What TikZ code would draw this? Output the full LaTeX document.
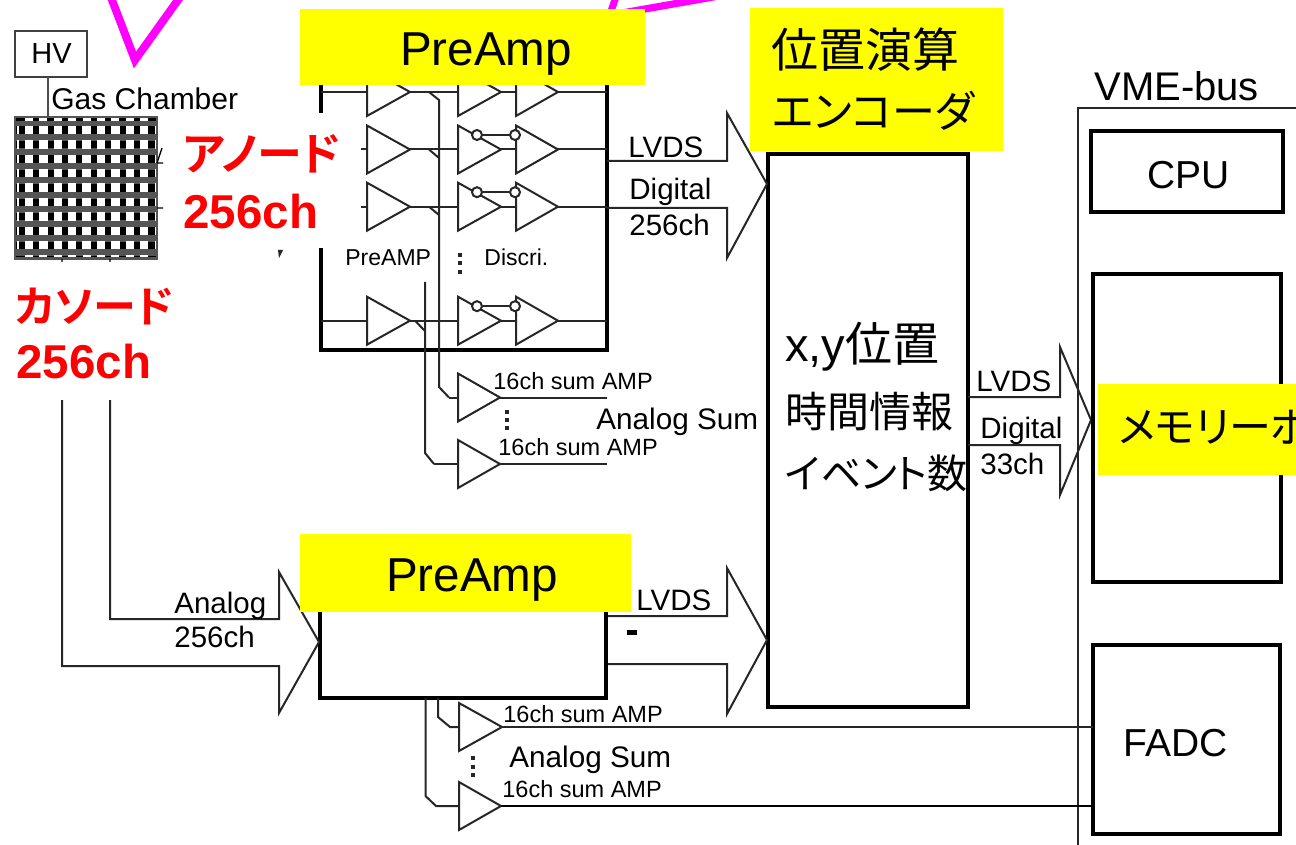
\documentclass[tikz,border=0pt]{standalone}
\usepackage{fontspec}
\setmainfont{Liberation Sans}
\newfontfamily\jp[RawFeature=+palt]{Noto Sans CJK JP}
\newfontfamily\jpb[RawFeature=+palt]{Noto Sans CJK JP Bold}
\newcommand{\fz}[1]{\fontsize{\dimexpr#1pt/2\relax}{\dimexpr#1pt*6/10\relax}\selectfont}
\definecolor{ylw}{RGB}{255,255,0}
\definecolor{mag}{RGB}{255,0,255}
\definecolor{band}{RGB}{85,85,85}
\tikzset{
  thin wire/.style={draw=black!85,line width=1pt,line join=miter},
  thick box/.style={draw=black,line width=2pt,fill=white,inner sep=0pt,outer sep=0pt},
  amp/.style={draw=black!85,line width=1pt,fill=white,line join=miter},
  lab/.style={inner sep=0pt,anchor=base west,text=black},
  yellowbox/.style={fill=ylw,draw=none,inner sep=0pt,outer sep=0pt},
  bubble/.style={circle,draw=black!85,line width=1pt,fill=white,minimum size=5pt,inner sep=0pt},
}
% #1 name, #2 left x, #3 apex x, #4 apex y
\newcommand{\ampl}[4]{%
  \coordinate (#1in) at (#2,#4);\coordinate (#1out) at (#3,#4);
  \draw[amp] (#2,#4-24) -- (#3,#4) -- (#2,#4+24) -- cycle;}
% one discriminator row
\newcommand{\drow}[2]{%
  \ampl{#1a}{367}{410}{#2}\ampl{#1b}{458}{501}{#2}\ampl{#1c}{516}{558}{#2}
  \draw[thin wire] (#1aout) -- (#1bin) (#1bout) -- (#1cin);
  \node[bubble] (#1p) at (477,#2-14.5) {};
  \node[bubble] (#1q) at (515,#2-14.5) {};
  \draw[thin wire] (#1p) -- (#1q);}
\begin{document}
\begin{tikzpicture}[x=0.5pt,y=-0.5pt]
\useasboundingbox (0,0) rectangle (1296,845);
\fill[white] (0,0) rectangle (1296,845);
\begin{scope}
\clip (0,0) rectangle (1296,845);
% magenta
\draw[mag,line width=4pt,line join=miter] (107.4,-12) -- (135,60) -- (186.6,-12);
\draw[mag,line width=3.5pt] (617,-6) -- (610,14);
\draw[mag,line width=3.6pt] (620,13.4) -- (730,-6);

% HV and chamber
\node[draw=black!75,line width=1pt,outer sep=0pt,minimum width=36pt,minimum height=23pt,inner sep=0pt] (hv) at (51,54) {};
\node[inner sep=0pt] at (51.5,54) {\fz{29}HV};
\coordinate (gridtop) at (48,117);
\draw[draw=black!70,line width=1pt] (hv.south -| gridtop) -- (gridtop);
\node[lab] at (51,110) {\fz{30}Gas Chamber};
% grid
\fill[black] (15,117) rectangle (157,259);
\foreach \k in {0,...,8}{\fill[band] (15,{134+14.4*\k}) rectangle (157,{141+14.4*\k});}
\fill[band] (15,121) rectangle (157,126);
\fill[band] (15,117) rectangle (157,118.5);\fill[band] (15,257.5) rectangle (157,259);
\foreach \k in {0,...,8}{
  \fill[white] (16.5,{125.8+14.4*\k}) rectangle (19,{134.2+14.4*\k});
  \fill[white] (154.6,{125.8+14.4*\k}) rectangle (156.5,{134.2+14.4*\k});
  \foreach \j in {0,...,8}{\fill[white] ({24.8+14.4*\j},{125.8+14.4*\k}) rectangle ({33.2+14.4*\j},{134.2+14.4*\k});}
}
\foreach \j in {0,...,8}{
  \fill[white] ({25+14.4*\j},118.5) rectangle ({33+14.4*\j},121);
  \fill[white] ({25+14.4*\j},255.5) rectangle ({33+14.4*\j},257.5);}
\draw[band,line width=0.6pt] (15,117) rectangle (157,259);
% stray bits by the chamber
\draw[black,line width=0.7pt] (157,163) -- (163,163) (157,208) -- (163,208) (157,163) -- (162,148) (62,259) -- (62,262) (110,259) -- (110,262);
\fill[black!85] (278,250) -- (283,250) -- (279,258) -- cycle;

% upper preamp box
\draw[black,line width=2pt] (321,248) -- (321,350) -- (607,350) -- (607,80);
\draw[black,line width=2pt] (321,80) -- (321,113);
\draw[thin wire] (321,92) -- (607,92);
\draw[thin wire] (361,149.5) -- (367,149.5) (558,149.5) -- (607,149.5);
\draw[thin wire] (361,206.7) -- (367,206.7) (558,206.7) -- (607,206.7);
\draw[thin wire] (321,320.7) -- (607,320.7);
% buses
\coordinate (bus1t) at (439,100);
\coordinate (bus1b) at (439,387);
\coordinate (bus1e) at (449,397.5);
\coordinate (bus2t) at (425,282);
\coordinate (bus2b) at (425,453);
\coordinate (bus2e) at (434,464);
\draw[thin wire] (429,92) -- (bus1t) -- (bus1b) -- (bus1e);
\draw[thin wire] (bus2t) -- (bus2b) -- (bus2e);
\draw[thin wire] (429,149.5) -- (439,158) (429,206.7) -- (439,215) (415,320.7) -- (425,331);
\drow{r}{92}\drow{s}{149.5}\drow{t}{206.7}\drow{u}{320.7}
\draw[thin wire] (scout) -- (607,149.5) (tcout) -- (607,206.7);
\node[lab] at (345,266) {\fz{23}PreAMP};
\node[lab] at (484,266) {\fz{23}Discri.};
\foreach \p/\q in {460/255,460/263,460/272,507/412,507/420,507/428,473/758,473/767,473/775}{\fill[black!85] (\p-2,\q-1.8) rectangle (\p+2,\q+1.8);}

% sum amps upper
\ampl{a}{458}{500}{397.5}
\ampl{b}{458}{500}{464}
\draw[thin wire] (bus1e) -- (ain) (bus2e) -- (bin);
\coordinate (aend) at (607,397.5);\coordinate (bend) at (607,464);
\draw[thin wire] (aout) -- (aend) (bout) -- (bend);
\node[lab] at (493,389) {\fz{23.5}16ch sum AMP};
\node[lab] at (498,455) {\fz{23.5}16ch sum AMP};
\node[lab] at (596,429) {\fz{29.7}Analog Sum};

% encoder
\node[thick box,minimum width=100pt,minimum height=276.5pt,anchor=north west] (enc) at (768,154) {};
\coordinate (encin1) at (767,184);
\coordinate (encin2) at (767,640);
\coordinate (encoutu) at (968,397);
\coordinate (encoutl) at (968,445);
% upper arrow
\draw[thin wire] (607,161) -- (727,161) -- (727,113) -- (encin1) -- (727,258) -- (727,208) -- (607,208);
\node[lab] at (628,158) {\fz{29.5}LVDS};
\node[lab] at (629,200) {\fz{29.5}Digital};
\node[lab] at (629,236) {\fz{29.5}256ch};
% lower arrow
\draw[thin wire] (607,616) -- (727,616) -- (727,568) -- (encin2) -- (727,714) -- (727,664) -- (607,664);
\node[lab] at (636,610) {\fz{29.5}LVDS};
\fill[black] (627,630) rectangle (637,635);

% encoder output arrow
\coordinate (memin) at (1091,420);
\draw[thin wire] (encoutu) -- (1060,397) -- (1060,347) -- (memin) -- (1060,495) -- (1060,445) -- (encoutl);
\node[lab] at (976,392) {\fz{29.5}LVDS};
\node[lab] at (980,438) {\fz{29.5}Digital};
\node[lab] at (980,474) {\fz{29.5}33ch};

% VME
\draw[thin wire] (1078,845) -- (1078,108) -- (1296,108);
\node[lab] at (1094,101) {\fz{40}VME-bus};
\node[thick box,minimum width=96pt,minimum height=40.5pt,anchor=north west] (cpu) at (1091,131) {};
\node[lab] at (1147,189) {\fz{39}CPU};
\node[thick box,minimum width=94pt,minimum height=154pt,anchor=north west] (mem) at (1093,274) {};
\node[thick box,minimum width=93.5pt,minimum height=94.5pt,anchor=north west] (fadc) at (1093,645) {};
\node[lab] at (1123,756) {\fz{39}FADC};

% lower preamp
\draw[black,line width=2pt] (320,605) -- (320,698) -- (606,698) -- (606,605);
% cathode wires
\coordinate (catha) at (110,400);
\coordinate (cathb) at (62,400);
\coordinate (lowin) at (319,642);
\draw[thin wire] (catha) -- (110,619) -- (279,619) -- (279,572) -- (lowin) -- (279,713) -- (279,666) -- (62,666) -- (cathb);
\node[lab] at (174,613) {\fz{29.5}Analog};
\node[lab] at (174,647) {\fz{29.5}256ch};
% lower sum amps
\ampl{c}{459}{502}{727}
\ampl{d}{459}{501}{806}
\draw[thin wire] (438,698) -- (438,717) -- (450,727) -- (cin);
\draw[thin wire] (425.5,698) -- (425.5,796) -- (436,806) -- (din);
\draw[thin wire] (cout) -- (fadc.west |- cout);
\draw[draw=black,line width=1.4pt] (dout) -- (fadc.west |- dout);
\node[lab] at (503,722) {\fz{23.5}16ch sum AMP};
\node[lab] at (502,797) {\fz{23.5}16ch sum AMP};
\node[lab] at (509,767) {\fz{29.7}Analog Sum};

% yellow labels
\node[yellowbox,minimum width=172.5pt,minimum height=38pt,anchor=north west] (y1) at (300,9) {};
\node[inner sep=0pt] at (486,54) {\fz{47.6}PreAmp};
\node[yellowbox,minimum width=165.5pt,minimum height=39pt,anchor=north west] (y2) at (300,534) {};
\node[inner sep=0pt] at (472,580) {\fz{47.6}PreAmp};
\node[yellowbox,minimum width=126.5pt,minimum height=71.5pt,anchor=north west] (y3) at (750,8) {};
\node[lab] at (771,68) {\fz{47}\jp 位置演算};
\node[lab] at (772,128) {\fz{43}\jp エンコーダ};
\node[yellowbox,minimum width=99pt,minimum height=45.5pt,anchor=north west] (y4) at (1098,384) {};
\node[lab] at (1118,442) {\fz{42}\jp メモリーボ};

% encoder text
\node[lab] at (785,362) {\fz{47}x,y\jp 位置};
\node[lab] at (785,427) {\fz{42}\jp 時間情報};
\node[lab] at (785,488) {\fz{40}\jp イベント数};

% red labels
\node[lab,text=red] at (183,171) {\fz{45}\jpb アノード};
\node[lab,text=red] at (183,229) {\fz{47.5}\bfseries 256ch};
\node[lab,text=red] at (15,322) {\fz{43}\jpb カソード};
\node[lab,text=red] at (16,379) {\fz{47.5}\bfseries 256ch};
\end{scope}
\end{tikzpicture}
\end{document}
